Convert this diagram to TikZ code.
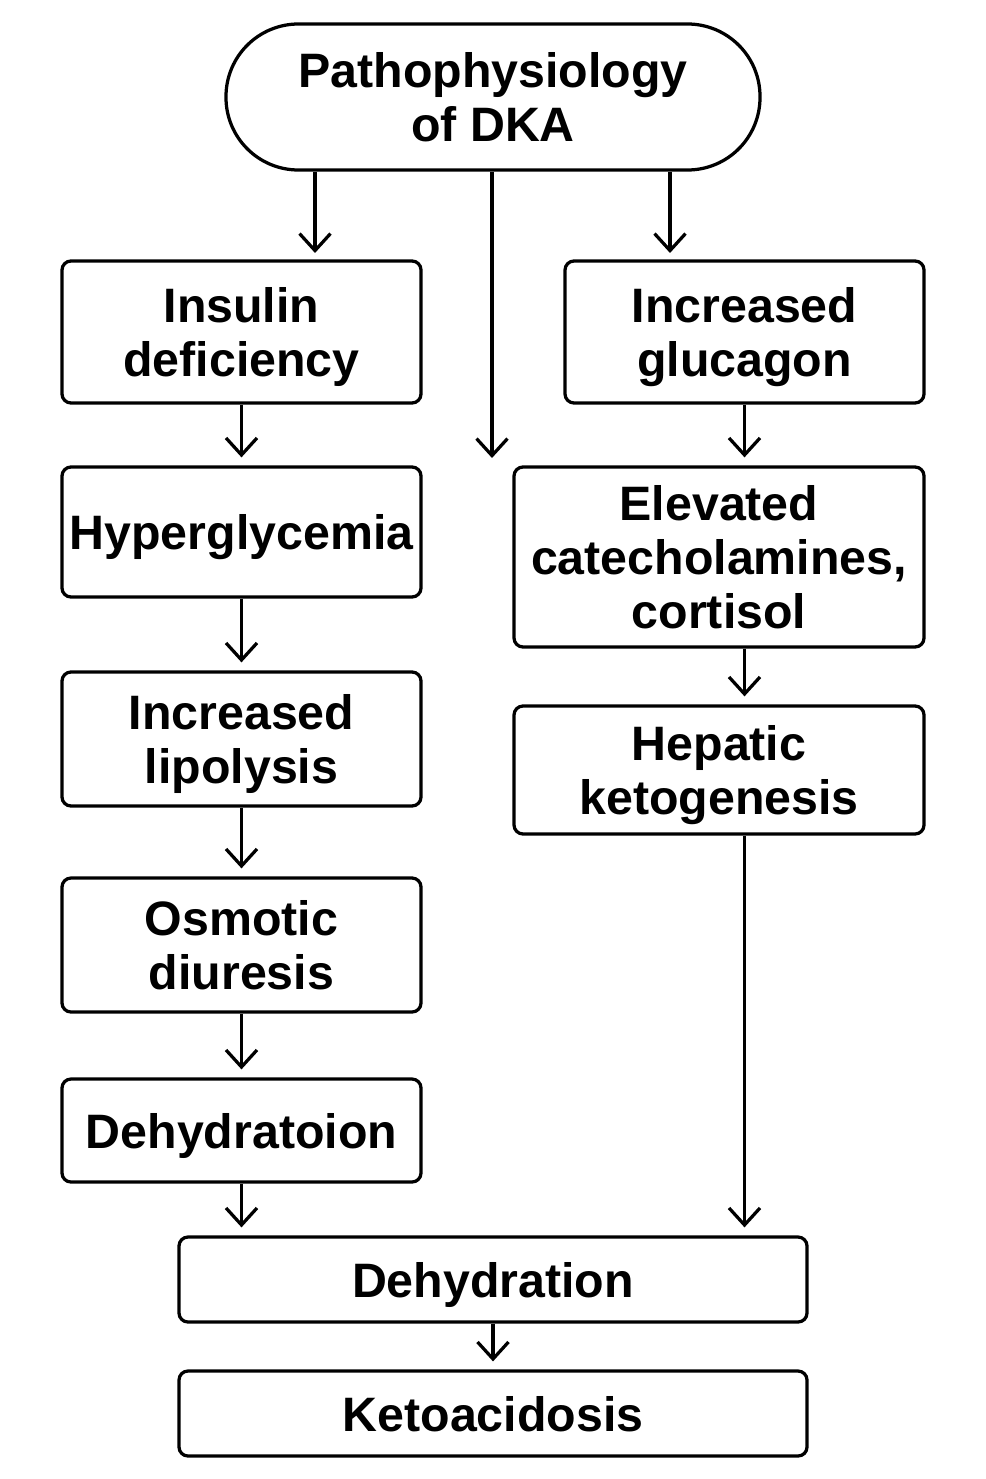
\documentclass[tikz,border=0pt]{standalone}
\usepackage{fontspec}
\setsansfont{Liberation Sans}
\usetikzlibrary{arrows.meta}

\begin{document}
\begin{tikzpicture}[x=0.02cm, y=-0.02cm,
    box/.style={draw, line width=0.065cm, rounded corners=0.18cm, align=center,
      inner sep=0pt, text depth=0pt, font=\sffamily\bfseries\fontsize{27.5}{31}\selectfont},
    arr/.style={line width=0.065cm, shorten >=0.16cm,
      -{Straight Barb[length=0.34cm, width=0.62cm, line width=0.065cm]}}]
  \useasboundingbox (0,0) rectangle (986,1479);
  % title
  \node[box, rounded corners=1.45cm, minimum width=534*0.02cm, minimum height=146*0.02cm]
    (title) at (493,97) {Pathophysiology\\of DKA};
  % left column
  \node[box, minimum width=359*0.02cm, minimum height=142*0.02cm] (ins) at (241.5,332) {Insulin\\deficiency};
  \node[box, minimum width=359*0.02cm, minimum height=130*0.02cm] (hyp) at (241.5,532) {Hyperglycemia};
  \node[box, minimum width=359*0.02cm, minimum height=134*0.02cm] (lip) at (241.5,739) {Increased\\lipolysis};
  \node[box, minimum width=359*0.02cm, minimum height=134*0.02cm] (osm) at (241.5,945) {Osmotic\\diuresis};
  \node[box, minimum width=359*0.02cm, minimum height=103*0.02cm] (dho) at (241.5,1130.5) {Dehydratoion};
  % right column
  \node[box, minimum width=359*0.02cm, minimum height=142*0.02cm] (glu) at (744.5,332) {Increased\\glucagon};
  \node[box, minimum width=410*0.02cm, minimum height=180*0.02cm] (cat) at (719,557) {Elevated\\catecholamines,\\cortisol};
  \node[box, minimum width=410*0.02cm, minimum height=128*0.02cm] (hep) at (719,770) {Hepatic\\ketogenesis};
  % bottom
  \node[box, minimum width=628*0.02cm, minimum height=85*0.02cm] (dehy) at (493,1279.5) {Dehydration};
  \node[box, minimum width=628*0.02cm, minimum height=85*0.02cm] (keto) at (493,1413.5) {Ketoacidosis};

  \coordinate (t1) at (315,253);
  \coordinate (t2) at (492,458);
  \coordinate (t3) at (670,253);

  \draw[arr, shorten >=0pt] (title.south -| t1) -- (t1);
  \draw[arr, shorten >=0pt] (title.south -| t2) -- (t2);
  \draw[arr, shorten >=0pt] (title.south -| t3) -- (t3);
  \draw[arr] (ins) -- (hyp);
  \draw[arr] (hyp) -- (lip);
  \draw[arr] (lip) -- (osm);
  \draw[arr] (osm) -- (dho);
  \draw[arr] (dho.south) -- (dehy.north -| dho.south);
  \draw[arr] (glu) -- (cat.north -| glu.south);
  \draw[arr] (cat.south -| glu.south) -- (hep.north -| glu.south);
  \draw[arr] (hep.south -| glu.south) -- (dehy.north -| glu.south);
  \draw[arr] (dehy) -- (keto);
\end{tikzpicture}
\end{document}
